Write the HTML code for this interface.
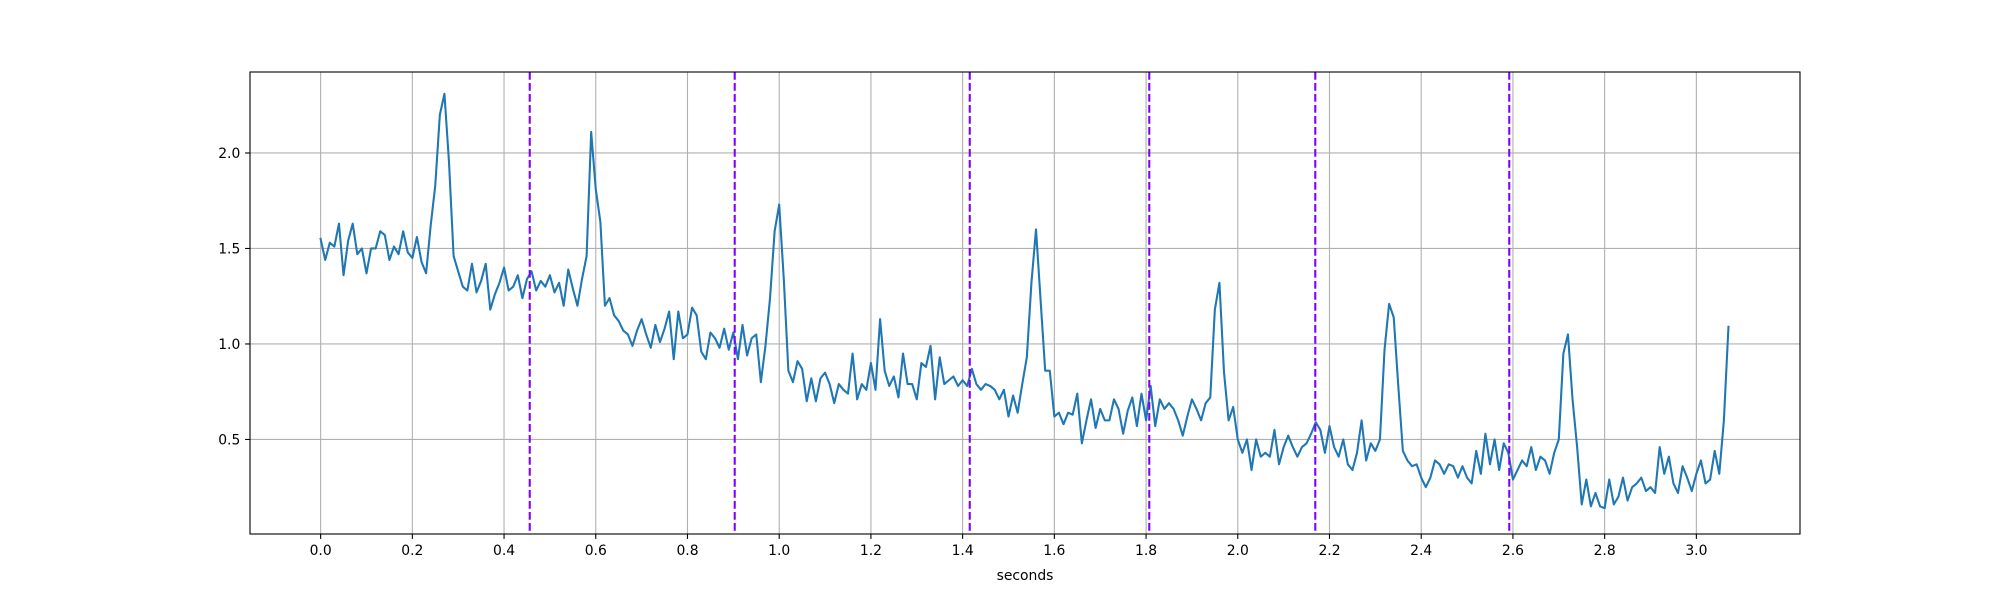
<!DOCTYPE html>
<html><head><meta charset="utf-8"><style>
html,body{margin:0;padding:0;background:#fff;}
svg text{font-family:"DejaVu Sans","Liberation Sans",sans-serif;font-size:13.9px;fill:#000;}
</style></head><body>
<svg id="chart" width="2000" height="600" xmlns="http://www.w3.org/2000/svg">
<rect width="2000" height="600" fill="#fff"/>
<g id="grid"></g>
<g id="marks"></g>
<rect x="250" y="72" width="1550" height="462" fill="none" stroke="#000" stroke-width="1.1"/>
<g id="axes"></g>
<text x="1025" y="580" text-anchor="middle">seconds</text>
</svg>
<script>
const xTicks = [0.0,0.2,0.4,0.6,0.8,1.0,1.2,1.4,1.6,1.8,2.0,2.2,2.4,2.6,2.8,3.0];
const xTickLabels = ["0.0","0.2","0.4","0.6","0.8","1.0","1.2","1.4","1.6","1.8","2.0","2.2","2.4","2.6","2.8","3.0"];
const yTicks = [0.5,1.0,1.5,2.0];
const yTickLabels = ["0.5","1.0","1.5","2.0"];
const markers = [0.456,0.903,1.4155,1.807,2.169,2.592];
const sampleStep = 0.01;
const values = [
1.55,1.44,1.53,1.51,1.63,1.36,1.54,1.63,1.47,1.50,
1.37,1.50,1.50,1.59,1.57,1.44,1.51,1.47,1.59,1.48,
1.45,1.56,1.43,1.37,1.62,1.83,2.20,2.31,1.95,1.46,
1.38,1.30,1.28,1.42,1.27,1.33,1.42,1.18,1.26,1.32,
1.40,1.28,1.30,1.36,1.24,1.34,1.38,1.28,1.33,1.30,
1.36,1.27,1.32,1.20,1.39,1.29,1.20,1.34,1.46,2.11,
1.81,1.64,1.20,1.24,1.15,1.12,1.07,1.05,0.99,1.07,
1.13,1.05,0.98,1.10,1.01,1.08,1.17,0.92,1.17,1.03,
1.05,1.19,1.15,0.96,0.92,1.06,1.03,0.98,1.08,0.97,
1.06,0.92,1.10,0.94,1.03,1.05,0.80,0.99,1.24,1.59,
1.73,1.34,0.86,0.80,0.91,0.87,0.70,0.82,0.70,0.82,
0.85,0.79,0.69,0.79,0.76,0.74,0.95,0.71,0.79,0.76,
0.90,0.76,1.13,0.86,0.78,0.83,0.72,0.95,0.79,0.79,
0.71,0.90,0.88,0.99,0.71,0.93,0.79,0.81,0.83,0.78,
0.81,0.78,0.87,0.79,0.76,0.79,0.78,0.76,0.71,0.76,
0.62,0.73,0.64,0.79,0.93,1.32,1.60,1.23,0.86,0.86,
0.62,0.64,0.58,0.64,0.63,0.74,0.48,0.60,0.71,0.56,
0.66,0.60,0.60,0.71,0.66,0.53,0.65,0.72,0.57,0.74,
0.60,0.78,0.57,0.71,0.66,0.69,0.66,0.60,0.52,0.62,
0.71,0.66,0.60,0.69,0.72,1.18,1.32,0.85,0.60,0.67,
0.50,0.43,0.50,0.34,0.50,0.41,0.43,0.41,0.55,0.37,
0.46,0.52,0.46,0.41,0.46,0.48,0.53,0.59,0.55,0.43,
0.57,0.46,0.41,0.50,0.37,0.34,0.43,0.60,0.39,0.48,
0.44,0.50,0.97,1.21,1.14,0.78,0.44,0.39,0.36,0.37,
0.30,0.25,0.30,0.39,0.37,0.32,0.37,0.36,0.30,0.36,
0.30,0.27,0.44,0.32,0.53,0.37,0.50,0.34,0.48,0.43,
0.29,0.34,0.39,0.36,0.46,0.34,0.41,0.39,0.32,0.43,
0.50,0.95,1.05,0.71,0.46,0.16,0.29,0.15,0.22,0.15,
0.14,0.29,0.16,0.20,0.30,0.18,0.25,0.27,0.30,0.23,
0.25,0.22,0.46,0.32,0.41,0.27,0.22,0.36,0.30,0.23,
0.32,0.39,0.27,0.29,0.44,0.32,0.60,1.09
];

const NS = "http://www.w3.org/2000/svg";
const L = 250, R = 1800, T = 72, B = 534;
const xMin = -0.154, xMax = 3.226, yMin = 0.005, yMax = 2.424;
function xs(v){ return L + (v - xMin) / (xMax - xMin) * (R - L); }
function ys(v){ return B - (v - yMin) / (yMax - yMin) * (B - T); }
function mk(tag, attrs, parent){
  const e = document.createElementNS(NS, tag);
  for (const k in attrs) e.setAttribute(k, attrs[k]);
  parent.appendChild(e);
  return e;
}
const grid = document.getElementById('grid');
const axes = document.getElementById('axes');
const marks = document.getElementById('marks');

xTicks.forEach((t, i) => {
  const x = xs(t);
  const g = mk('line', {x1:x, x2:x, y1:T, y2:B, stroke:'#b0b0b0', 'stroke-width':1.1}, grid);
  
  
  const tk = mk('line', {x1:x, x2:x, y1:B, y2:B+4.9, stroke:'#000', 'stroke-width':1.1}, axes);
  
  
  const lb = mk('text', {x:x, y:B+21, 'text-anchor':'middle'}, axes);
  lb.textContent = xTickLabels[i];
  
  
});
yTicks.forEach((t, i) => {
  const y = ys(t);
  const g = mk('line', {x1:L, x2:R, y1:y, y2:y, stroke:'#b0b0b0', 'stroke-width':1.1}, grid);
  
  
  const tk = mk('line', {x1:L-4.9, x2:L, y1:y, y2:y, stroke:'#000', 'stroke-width':1.1}, axes);
  
  
  const lb = mk('text', {x:L-9.7, y:y+5, 'text-anchor':'end'}, axes);
  lb.textContent = yTickLabels[i];
  
  
});

let d = '';
values.forEach((v, i) => {
  d += (i ? 'L' : 'M') + xs(i * sampleStep).toFixed(2) + ',' + ys(v).toFixed(2);
});
const line = mk('path', {d:d, fill:'none', stroke:'#1f77b4', 'stroke-width':2.08, 'stroke-linejoin':'round', 'stroke-linecap':'square'}, marks);



markers.forEach(m => {
  const x = xs(m);
  const vl = mk('line', {x1:x, x2:x, y1:T, y2:B, stroke:'#7f00ff', 'stroke-width':2.08, 'stroke-dasharray':'7.7,3.3'}, marks);
  
  
});
</script>
</body></html>
